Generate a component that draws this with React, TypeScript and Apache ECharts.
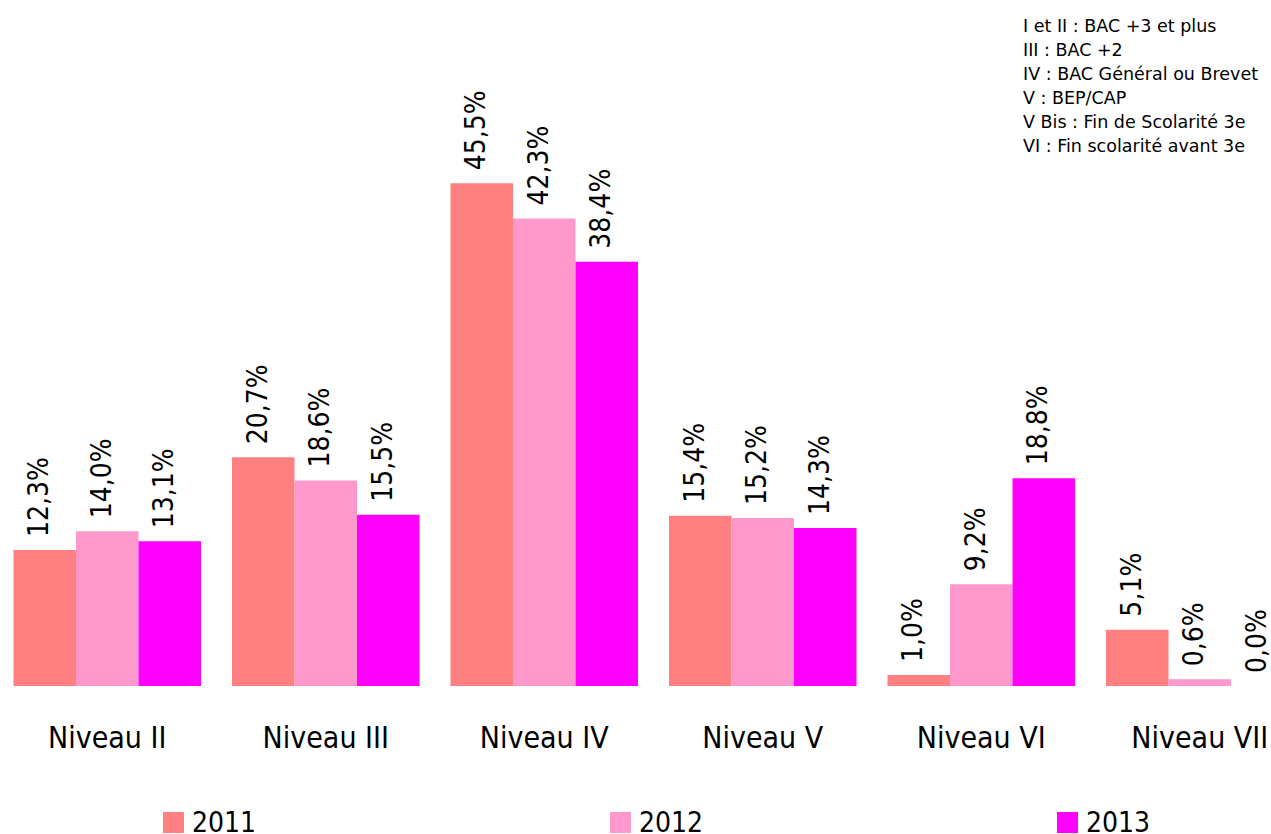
import React, { useEffect, useRef } from "react";
import * as echarts from "echarts";

const categories = ["Niveau II", "Niveau III", "Niveau IV", "Niveau V", "Niveau VI", "Niveau VII"];
const years = ["2011", "2012", "2013"];
const values2011 = [12.3, 20.7, 45.5, 15.4, 1.0, 5.1];
const values2012 = [14.0, 18.6, 42.3, 15.2, 9.2, 0.6];
const values2013 = [13.1, 15.5, 38.4, 14.3, 18.8, 0.0];
const colors = ["#FF8080", "#FF99CC", "#FF00FF"];
const noteLines = [
  "I et II : BAC +3 et plus",
  "III : BAC +2",
  "IV : BAC Général ou Brevet",
  "V : BEP/CAP",
  "V Bis : Fin de Scolarité 3e",
  "VI : Fin scolarité avant 3e",
];

const FONT = "'DejaVu Sans Condensed', 'DejaVu Sans', sans-serif";
const SHIFT = 2; // chart div starts 2px left of the window

export default function App() {
  const ref = useRef<HTMLDivElement>(null);
  useEffect(() => {
    if (!ref.current) return;
    const chart = echarts.init(ref.current, undefined, { renderer: "svg" });
    const seriesData = [values2011, values2012, values2013];
    const legendLefts = [163, 610, 1057];
    chart.setOption({
      animation: false,
      grid: { left: 0, right: 0, top: 133.5, bottom: 148, containLabel: false },
      xAxis: {
        type: "category",
        data: categories,
        axisLine: { show: false },
        axisTick: { show: false },
        axisLabel: { fontSize: 30, fontFamily: FONT, color: "#000", margin: 36 },
      },
      yAxis: {
        type: "value",
        min: 0,
        max: 50,
        show: false,
        splitLine: { show: false },
      },
      legend: years.map((y, i) => ({
        data: [y],
        left: legendLefts[i] + SHIFT,
        top: 807,
        itemWidth: 21,
        itemHeight: 21,
        itemGap: 8,
        icon: "rect",
        textStyle: { fontSize: 28, lineHeight: 18, fontFamily: FONT, color: "#000", padding: [0, 0, 13, 3] },
        padding: 0,
      })),
      series: years.map((y, i) => ({
        name: y,
        type: "bar",
        data: seriesData[i],
        barWidth: 62.5,
        barGap: "0%",
        itemStyle: { color: colors[i] },
        label: {
          show: true,
          position: "top",
          rotate: 90,
          align: "left",
          verticalAlign: "middle",
          distance: 13,
          offset: [0, -6],
          fontSize: 28,
          fontFamily: FONT,
          color: "#000",
          formatter: (p: any) => p.value.toFixed(1).replace(".", ",") + "%",
        },
      })),
      graphic: [
        {
          type: "text",
          left: 1023 + SHIFT,
          top: 14,
          style: {
            text: noteLines.join("\n"),
            fontSize: 17.5,
            lineHeight: 24,
            fontFamily: "'DejaVu Sans', sans-serif",
            fill: "#000",
          },
        },
      ],
    });
    return () => chart.dispose();
  }, []);
  return (
    <div
      ref={ref}
      style={{ position: "fixed", left: -SHIFT, top: 0, width: 1311, height: 834, background: "#fff" }}
    />
  );
}
